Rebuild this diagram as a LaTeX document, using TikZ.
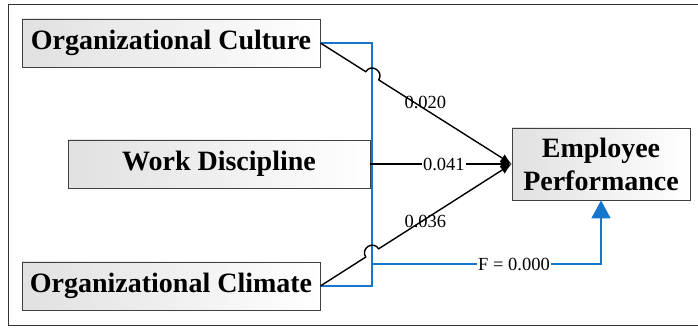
\documentclass[tikz,border=0pt]{standalone}
\usepackage{fontspec}
\setmainfont{Liberation Serif}
\usetikzlibrary{calc,arrows.meta}
\definecolor{lnblue}{RGB}{22,118,204}
\begin{document}
\begin{tikzpicture}[x=1pt,y=1pt,
  box/.style={draw=black!75, line width=0.8pt, left color=black!12, right color=white, minimum height=48pt, inner sep=0pt, font=\fontsize{28}{33}\selectfont\bfseries, align=center},
  blk/.style={line width=1.4pt, black, -{Latex[length=11pt,width=9pt]}},
  blu/.style={line width=1.8pt, lnblue},
  lab/.style={font=\fontsize{18.5}{20}\selectfont, inner sep=1pt, text=black}
]
\useasboundingbox (0,0) rectangle (698,329);
\draw[black!80, line width=0.9pt] (8,4) rectangle (710,325);
\node[box, minimum width=298pt] (cul) at (171,286) {Organizational Culture};
\node[box, minimum width=302pt] (wd) at (219,165) {Work Discipline};
\node[box, minimum width=298pt] (cli) at (171,43) {Organizational Climate};
\node[box, minimum width=178pt, minimum height=72pt] (ep) at (601,165) {Employee\\Performance};
\coordinate (bt) at (372,286);
\coordinate (bb) at (372,43);
\coordinate (bj) at (372,65);
\draw[blu] (cul.east) -- (bt) -- (bb) -- (cli.east);
\draw[blu, -{Triangle[length=18pt,width=19pt]}] (bj) -| node[lab, pos=0.31, fill=white]{F = 0.000} (ep.south);
\draw[blk] (cul.east) -- ($(cul.east)!0.237!(ep.west)$) to[bend left=90, looseness=1.7] ($(cul.east)!0.305!(ep.west)$) -- node[lab, pos=0.351, yshift=7pt]{0.020} (ep.west);
\draw[blk] (cli.east) -- ($(cli.east)!0.237!(ep.west)$) to[bend left=90, looseness=1.7] ($(cli.east)!0.305!(ep.west)$) -- node[lab, pos=0.351, yshift=-2pt]{0.036} (ep.west);
\draw[blk] (wd.east) -- node[lab, pos=0.52, fill=white]{0.041} (ep.west);
\end{tikzpicture}
\end{document}
